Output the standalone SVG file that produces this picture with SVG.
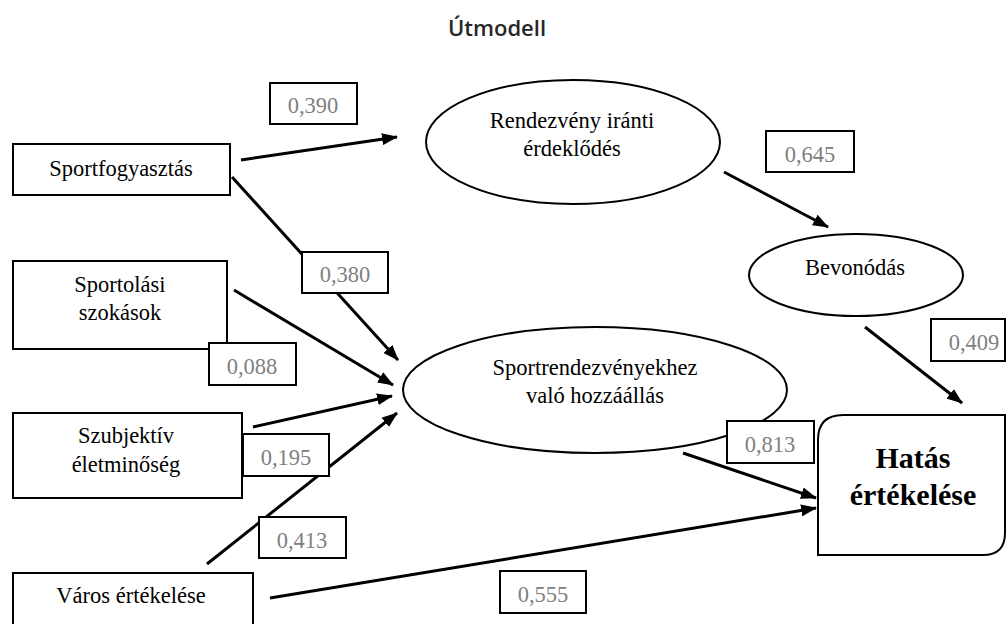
<svg xmlns="http://www.w3.org/2000/svg" width="1007" height="624" viewBox="0 0 1007 624">
<style>
.box{fill:#fff;stroke:#000;stroke-width:2}
.lbl{fill:#fff;stroke:#000;stroke-width:2}
.t{font-family:"Liberation Serif","DejaVu Serif",serif;font-size:22.5px;fill:#000;text-anchor:middle}
.h{font-family:"Liberation Serif","DejaVu Serif",serif;font-size:30px;font-weight:700;fill:#000;text-anchor:middle}
.n{font-family:"Liberation Serif","DejaVu Serif",serif;font-size:22.5px;fill:#808080;text-anchor:middle}
.c{stroke:#000;stroke-width:3;fill:none}
.a{marker-end:url(#ah)}
</style>
<defs>
<marker id="ah" viewBox="0 0 16 12" refX="15" refY="6" markerWidth="16" markerHeight="12" markerUnits="userSpaceOnUse" orient="auto">
<path d="M0,0 L16,6 L0,12 Z" fill="#000"/>
</marker>
</defs>
<rect width="1007" height="624" fill="#fff"/>
<text x="497" y="36" font-family="'Open Sans','Noto Sans',sans-serif" font-weight="600" font-size="22" fill="#262626" text-anchor="middle">Útmodell</text>

<g id="connectors">
<line class="c a" x1="241" y1="160" x2="397" y2="137"/>
<line class="c a" x1="232" y1="177" x2="398" y2="360"/>
<line class="c a" x1="234" y1="290" x2="393" y2="385"/>
<line class="c a" x1="253" y1="427" x2="392" y2="396"/>
<line class="c a" x1="207" y1="564" x2="397" y2="413"/>
<line class="c a" x1="724" y1="172" x2="828" y2="227"/>
<line class="c a" x1="865" y1="327" x2="962" y2="403"/>
<line class="c a" x1="683" y1="453" x2="816" y2="498"/>
<line class="c a" x1="270" y1="598" x2="816" y2="508"/>
</g>

<g id="sportfogyasztas">
<rect class="box" x="13" y="144" width="217" height="51"/>
<text class="t" x="121" y="176">Sportfogyasztás</text>
</g>
<g id="sportolasi">
<rect class="box" x="13" y="261" width="214" height="88"/>
<text class="t" x="120" y="292">Sportolási</text>
<text class="t" x="120" y="320">szokások</text>
</g>
<g id="szubjektiv">
<rect class="box" x="13" y="413" width="229" height="85"/>
<text class="t" x="126" y="443">Szubjektív</text>
<text class="t" x="126" y="472">életminőség</text>
</g>
<g id="varos">
<rect class="box" x="13" y="573" width="240" height="60"/>
<text class="t" x="131" y="603">Város értékelése</text>
</g>
<g id="rendezveny">
<ellipse class="box" cx="573" cy="142" rx="147" ry="62"/>
<text class="t" x="572" y="128">Rendezvény iránti</text>
<text class="t" x="572" y="156">érdeklődés</text>
</g>
<g id="bevonodas">
<ellipse class="box" cx="856" cy="275" rx="107" ry="41"/>
<text class="t" x="855" y="275">Bevonódás</text>
</g>
<g id="sportrendezveny">
<ellipse class="box" cx="595" cy="390" rx="192" ry="63"/>
<text class="t" x="595" y="375">Sportrendezvényekhez</text>
<text class="t" x="595" y="403">való hozzáállás</text>
</g>
<g id="hatas">
<path class="box" d="M818,440 Q818,415 843,415 L1005,415 L1005,533 Q1005,555 983,555 L818,555 Z"/>
<text class="h" x="913" y="468">Hatás</text>
<text class="h" x="913" y="505">értékelése</text>
</g>

<g id="labels">
<rect class="lbl" x="270" y="83" width="87" height="41"/><text class="n" x="313" y="113">0,390</text>
<rect class="lbl" x="302" y="252" width="86" height="41"/><text class="n" x="345" y="282">0,380</text>
<rect class="lbl" x="209" y="343" width="87" height="42"/><text class="n" x="252" y="374">0,088</text>
<rect class="lbl" x="243" y="434" width="86" height="42"/><text class="n" x="286" y="465">0,195</text>
<rect class="lbl" x="259" y="517" width="87" height="41"/><text class="n" x="302" y="548">0,413</text>
<rect class="lbl" x="500" y="571" width="86" height="42"/><text class="n" x="543" y="602">0,555</text>
<rect class="lbl" x="766" y="131" width="88" height="41"/><text class="n" x="810" y="162">0,645</text>
<rect class="lbl" x="931" y="319" width="74" height="42"/><text class="n" x="974" y="350">0,409</text>
<rect class="lbl" x="727" y="421" width="87" height="42"/><text class="n" x="770" y="452">0,813</text>
</g>
</svg>
